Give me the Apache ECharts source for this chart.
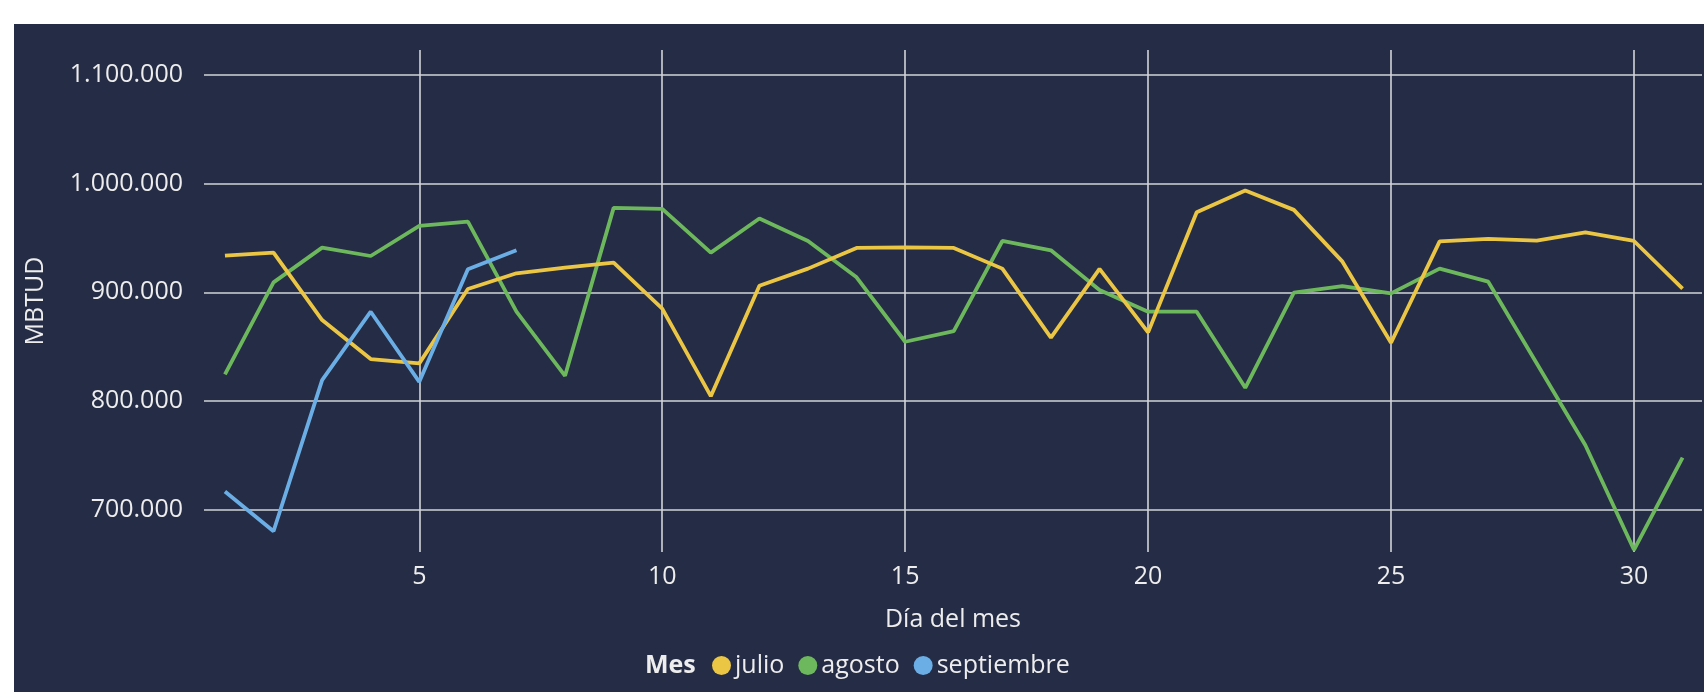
<!DOCTYPE html>
<html>
<head>
<meta charset="utf-8">
<script src="https://cdn.jsdelivr.net/npm/echarts@6/dist/echarts.min.js"></script>
<style>
  html, body { margin: 0; padding: 0; background: #ffffff; width: 1704px; height: 692px; overflow: hidden; }
  #chart { position: absolute; left: 14px; top: 24px; width: 1690px; height: 668px; background: #252C45; }
</style>
</head>
<body>
<div id="chart"></div>
<script>
const days = [1,2,3,4,5,6,7,8,9,10,11,12,13,14,15,16,17,18,19,20,21,22,23,24,25,26,27,28,29,30,31];
const julio = [933700, 936500, 874500, 838700, 834700, 903100, 917500, 922700, 927300, 885000, 804600, 906100, 921800, 940800, 941400, 940800, 921800, 858400, 921500, 863200, 973600, 993500, 975800, 928200, 853700, 946900, 949100, 947600, 955000, 947200, 903400];
const agosto = [824600, 909200, 941100, 933400, 961000, 965000, 882200, 823300, 977600, 976700, 936500, 967800, 947200, 913800, 854600, 864400, 947200, 938600, 902200, 882200, 882200, 812300, 899700, 905800, 899100, 921800, 909800, 834700, 759500, 663400, 748200];
const septiembre = [717000, 680500, 819300, 882200, 817800, 921200, 938700];
const xTicks = [5, 10, 15, 20, 25, 30];
const yTicks = [700000, 800000, 900000, 1000000, 1100000];
const seriesNames = ['julio', 'agosto', 'septiembre'];
const colors = ['#EBC544', '#6DB85C', '#6BAEE6'];

const pairs = vals => vals.map((v, i) => [days[i], v]);
const fmt = v => String(Math.round(v)).replace(/\B(?=(\d{3})+(?!\d))/g, '.');

const FONT = '"Open Sans", "Noto Sans", sans-serif';
const FS = 25;
const TXT = '#EDEDED';
const GRID = '#D2D4D9';

const chart = echarts.init(document.getElementById('chart'), null, { renderer: 'canvas' });
chart.setOption({
  animation: false,
  backgroundColor: '#252C45',
  textStyle: { fontFamily: FONT },
  color: colors,
  grid: { left: 190, top: 26, right: 2, bottom: 140, containLabel: false },
  xAxis: {
    type: 'value',
    min: 0.569,
    max: 31.4,
    name: 'Día del mes',
    nameLocation: 'middle',
    nameGap: 55,
    nameTextStyle: { color: TXT, fontSize: FS, fontFamily: FONT },
    axisLine: { show: false },
    axisTick: { show: false, customValues: xTicks },
    axisLabel: { customValues: xTicks, color: TXT, fontSize: FS, fontFamily: FONT, margin: 12 },
    splitLine: { show: true, lineStyle: { color: GRID, width: 1.6 } }
  },
  yAxis: {
    type: 'value',
    min: 661400,
    max: 1122700,
    name: 'MBTUD',
    nameLocation: 'middle',
    nameGap: 156,
    nameTextStyle: { color: TXT, fontSize: FS, fontFamily: FONT },
    axisLine: { show: false },
    axisTick: { show: false, customValues: yTicks },
    axisLabel: { customValues: yTicks, color: TXT, fontSize: FS, fontFamily: FONT, margin: 21, formatter: fmt },
    splitLine: { show: true, lineStyle: { color: GRID, width: 1.6 } }
  },
  legend: {
    left: 693,
    top: 624,
    icon: 'circle',
    itemWidth: 19,
    itemHeight: 19,
    itemGap: 14,
    textStyle: { color: TXT, fontSize: FS, fontFamily: FONT, padding: [0, 0, 0, -1] },
    data: seriesNames
  },
  graphic: [{
    type: 'text',
    x: 631,
    y: 642,
    style: { text: 'Mes', fill: TXT, font: 'bold ' + FS + 'px ' + FONT, verticalAlign: 'middle', align: 'left' }
  }],
  series: [
    { name: seriesNames[0], type: 'line', data: pairs(julio), showSymbol: false, lineStyle: { width: 3.8 }, z: 3 },
    { name: seriesNames[1], type: 'line', data: pairs(agosto), showSymbol: false, lineStyle: { width: 3.8 }, z: 2 },
    { name: seriesNames[2], type: 'line', data: pairs(septiembre), showSymbol: false, lineStyle: { width: 3.8 }, z: 4 }
  ]
});
</script>
</body>
</html>
